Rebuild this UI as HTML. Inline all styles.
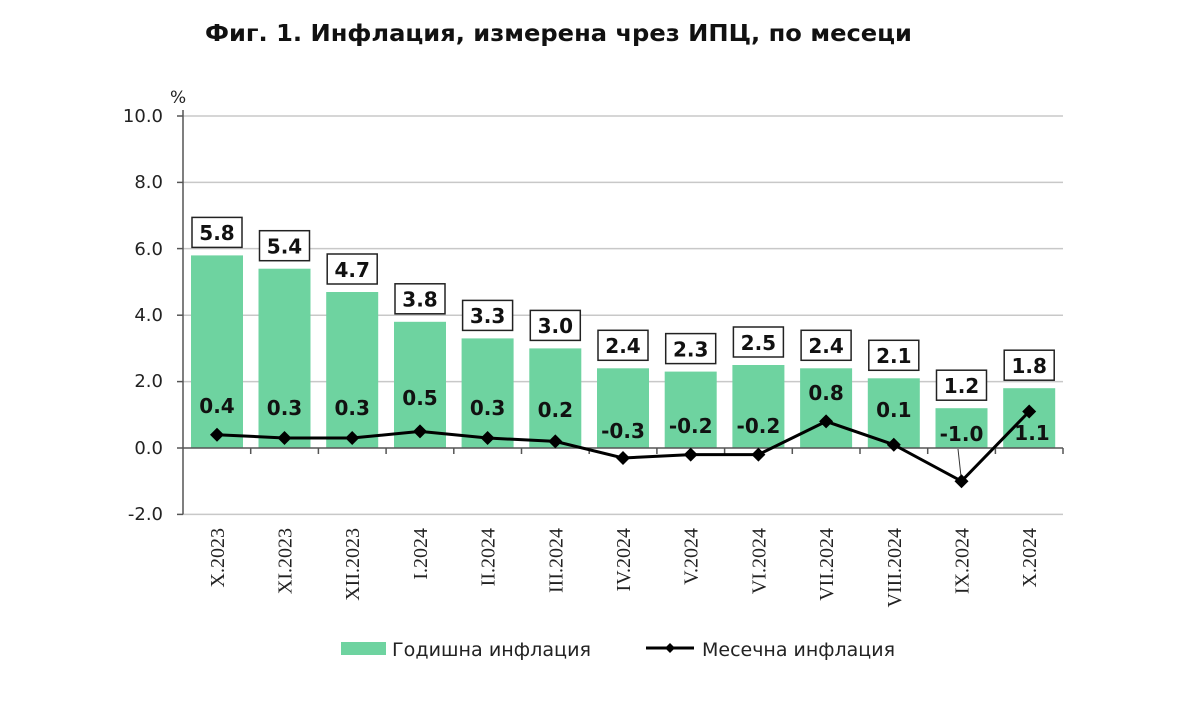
<!DOCTYPE html><html><head><meta charset="utf-8"><style>body{margin:0;background:#fff}svg{display:block}</style></head><body>
<svg width="1200" height="720" xmlns="http://www.w3.org/2000/svg" font-family="'DejaVu Sans','Liberation Sans',sans-serif">
<text x="205" y="41" font-size="23" font-weight="bold" fill="#111" textLength="707" lengthAdjust="spacingAndGlyphs">Фиг. 1. Инфлация, измерена чрез ИПЦ, по месеци</text>
<text x="170" y="103" font-size="17" fill="#222">%</text>
<g stroke="#c8c8c8" stroke-width="1.5">
<line x1="183" y1="116" x2="1063" y2="116"/><line x1="183" y1="182.4" x2="1063" y2="182.4"/><line x1="183" y1="248.6" x2="1063" y2="248.6"/><line x1="183" y1="315.2" x2="1063" y2="315.2"/><line x1="183" y1="381.6" x2="1063" y2="381.6"/><line x1="183" y1="514.4" x2="1063" y2="514.4"/></g>
<g font-size="18" fill="#222" text-anchor="end">
<text x="163" y="122">10.0</text><text x="163" y="188">8.0</text><text x="163" y="255">6.0</text><text x="163" y="321">4.0</text><text x="163" y="387">2.0</text><text x="163" y="454">0.0</text><text x="163" y="520">-2.0</text></g>
<g fill="#6ed3a0">
<rect x="191" y="255.4" width="52" height="192.6"/><rect x="258.5" y="268.7" width="52" height="179.3"/><rect x="326.2" y="292" width="52" height="156"/><rect x="394" y="321.8" width="52" height="126.2"/><rect x="461.6" y="338.4" width="52" height="109.6"/><rect x="529.3" y="348.4" width="52" height="99.6"/><rect x="597" y="368.3" width="52" height="79.7"/><rect x="664.7" y="371.6" width="52" height="76.4"/><rect x="732.4" y="365" width="52" height="83"/><rect x="800.1" y="368.3" width="52" height="79.7"/><rect x="867.8" y="378.3" width="52" height="69.7"/><rect x="935.5" y="408.2" width="52" height="39.8"/><rect x="1003.2" y="388.2" width="52" height="59.8"/></g>
<g stroke="#555" stroke-width="1.5">
<line x1="183" y1="110" x2="183" y2="514.4"/><line x1="177" y1="116" x2="183" y2="116"/><line x1="177" y1="182.4" x2="183" y2="182.4"/><line x1="177" y1="248.6" x2="183" y2="248.6"/><line x1="177" y1="315.2" x2="183" y2="315.2"/><line x1="177" y1="381.6" x2="183" y2="381.6"/><line x1="177" y1="448" x2="183" y2="448"/><line x1="177" y1="514.4" x2="183" y2="514.4"/>
<line x1="183" y1="448" x2="1063" y2="448"/>
<path d="M250.7 448v6M318.4 448v6M386.1 448v6M453.8 448v6M521.5 448v6M589.2 448v6M656.9 448v6M724.6 448v6M792.3 448v6M860 448v6M927.7 448v6M995.4 448v6M1063 448v6"/></g>
<g fill="#fff" stroke="#222" stroke-width="1.5">
<rect x="192" y="217.4" width="50" height="30"/><rect x="259.5" y="230.7" width="50" height="30"/><rect x="327.2" y="254" width="50" height="30"/><rect x="395" y="283.8" width="50" height="30"/><rect x="462.6" y="300.4" width="50" height="30"/><rect x="530.3" y="310.4" width="50" height="30"/><rect x="598" y="330.3" width="50" height="30"/><rect x="665.7" y="333.6" width="50" height="30"/><rect x="733.4" y="327" width="50" height="30"/><rect x="801.1" y="330.3" width="50" height="30"/><rect x="868.8" y="340.3" width="50" height="30"/><rect x="936.5" y="370.2" width="50" height="30"/><rect x="1004.2" y="350.2" width="50" height="30"/></g>
<g font-size="20" font-weight="bold" fill="#111" text-anchor="middle">
<text x="217" y="240">5.8</text><text x="284.5" y="253.5">5.4</text><text x="352.2" y="277">4.7</text><text x="420" y="306.5">3.8</text><text x="487.6" y="323">3.3</text><text x="555.3" y="333">3.0</text><text x="623" y="353">2.4</text><text x="690.7" y="356.5">2.3</text><text x="758.4" y="350">2.5</text><text x="826.1" y="353">2.4</text><text x="893.8" y="363">2.1</text><text x="961.5" y="393">1.2</text><text x="1029.2" y="373">1.8</text>
<text x="217" y="413">0.4</text><text x="284.5" y="415">0.3</text><text x="352.2" y="415">0.3</text><text x="420" y="405">0.5</text><text x="487.6" y="415">0.3</text><text x="555.3" y="417">0.2</text><text x="623" y="438">-0.3</text><text x="690.7" y="433">-0.2</text><text x="758.4" y="433">-0.2</text><text x="826.1" y="400">0.8</text><text x="893.8" y="417">0.1</text><text x="961.5" y="441">-1.0</text><text x="1032" y="440">1.1</text></g>
<line x1="958" y1="449" x2="961.5" y2="481" stroke="#333" stroke-width="1"/>
<polyline fill="none" stroke="#000" stroke-width="3" points="217,434.7 284.5,438 352.2,438 420,431.4 487.6,438 555.3,441.4 623,458 690.7,454.6 758.4,454.6 826.1,421.4 893.8,444.7 961.5,481.2 1029.2,411.5"/>
<g fill="#000">
<path d="M217 427.7l7 7-7 7-7-7z"/><path d="M284.5 431l7 7-7 7-7-7z"/><path d="M352.2 431l7 7-7 7-7-7z"/><path d="M420 424.4l7 7-7 7-7-7z"/><path d="M487.6 431l7 7-7 7-7-7z"/><path d="M555.3 434.4l7 7-7 7-7-7z"/><path d="M623 451l7 7-7 7-7-7z"/><path d="M690.7 447.6l7 7-7 7-7-7z"/><path d="M758.4 447.6l7 7-7 7-7-7z"/><path d="M826.1 414.4l7 7-7 7-7-7z"/><path d="M893.8 437.7l7 7-7 7-7-7z"/><path d="M961.5 474.2l7 7-7 7-7-7z"/><path d="M1029.2 404.5l7 7-7 7-7-7z"/></g>
<g font-family="'Liberation Serif','DejaVu Serif',serif" font-size="20" fill="#222" text-anchor="end">
<text transform="translate(224,528) rotate(-90)">X.2023</text><text transform="translate(291.5,528) rotate(-90)">XI.2023</text><text transform="translate(359.2,528) rotate(-90)">XII.2023</text><text transform="translate(427,528) rotate(-90)">I.2024</text><text transform="translate(494.6,528) rotate(-90)">II.2024</text><text transform="translate(562.3,528) rotate(-90)">III.2024</text><text transform="translate(630,528) rotate(-90)">IV.2024</text><text transform="translate(697.7,528) rotate(-90)">V.2024</text><text transform="translate(765.4,528) rotate(-90)">VI.2024</text><text transform="translate(833.1,528) rotate(-90)">VII.2024</text><text transform="translate(900.8,528) rotate(-90)">VIII.2024</text><text transform="translate(968.5,528) rotate(-90)">IX.2024</text><text transform="translate(1036.2,528) rotate(-90)">X.2024</text></g>
<rect x="341" y="642" width="45" height="13" fill="#6ed3a0"/>
<text x="392" y="656" font-size="19" fill="#222" textLength="199" lengthAdjust="spacingAndGlyphs">Годишна инфлация</text>
<line x1="646" y1="648" x2="694" y2="648" stroke="#000" stroke-width="3"/><path d="M670 643l5 5-5 5-5-5z" fill="#000"/>
<text x="702" y="656" font-size="19" fill="#222" textLength="193" lengthAdjust="spacingAndGlyphs">Месечна инфлация</text>
</svg></body></html>
